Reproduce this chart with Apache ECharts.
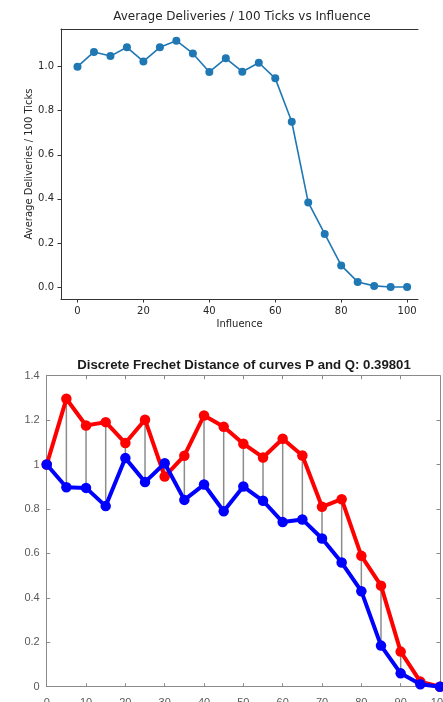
<!DOCTYPE html>
<html>
<head>
<meta charset="utf-8">
<script src="https://cdn.jsdelivr.net/npm/echarts@6/dist/echarts.min.js"></script>
<style>
html,body{margin:0;padding:0;background:#fff;}
#chart{width:443px;height:702px;}
</style>
</head>
<body>
<div id="chart"></div>
<script>
// ---- Top chart data ----
const influence = [0,5,10,15,20,25,30,35,40,45,50,55,60,65,70,75,80,85,90,95,100];
const avgDeliveries = [1.000,1.067,1.048,1.088,1.024,1.088,1.118,1.060,0.976,1.038,0.977,1.018,0.947,0.750,0.384,0.241,0.098,0.023,0.005,0.000,0.000];
const topXTicks = [0,20,40,60,80,100];
const topYTicks = [0.0,0.2,0.4,0.6,0.8,1.0];

// ---- Bottom chart data ----
const curveX = [0,5,10,15,20,25,30,35,40,45,50,55,60,65,70,75,80,85,90,95,100];
const curveP = [1.000,1.296,1.176,1.191,1.097,1.202,0.946,1.040,1.221,1.170,1.094,1.032,1.116,1.041,0.810,0.844,0.589,0.455,0.158,0.023,0.000];
const curveQ = [1.000,0.898,0.895,0.813,1.029,0.921,1.006,0.841,0.910,0.790,0.901,0.837,0.741,0.753,0.667,0.559,0.430,0.185,0.060,0.011,0.000];

const topTitle = 'Average Deliveries / 100 Ticks vs Influence';
const bottomTitle = 'Discrete Frechet Distance of curves P and Q: 0.39801';

const chart = echarts.init(document.getElementById('chart'), null, {renderer: 'canvas'});

const mplFont = 'DejaVu Sans';
const matFont = 'Liberation Sans';
const mplText = '#262626';
const matAxis = '#8a8a8a';
const matText = '#5a5a5a';

const option = {
  backgroundColor: '#ffffff',
  animation: false,
  graphic: [
    {type: 'text', x: 242, y: 17, style: {text: topTitle, font: '12px "DejaVu Sans"', fill: mplText, textAlign: 'center', textVerticalAlign: 'middle'}},
    {type: 'text', x: 244, y: 365.5, style: {text: bottomTitle, font: 'bold 13.2px "Liberation Sans"', fill: '#1a1a1a', textAlign: 'center', textVerticalAlign: 'middle'}}
  ],
  grid: [
    {left: 61, top: 29, right: 25, height: 270, containLabel: false, outerBoundsMode: 'none'},
    {left: 46.7, top: 375.7, right: 3, height: 311, containLabel: false, outerBoundsMode: 'none'}
  ],
  xAxis: [
    {
      gridIndex: 0, type: 'value', min: -5, max: 103.3, position: 'bottom',
      name: 'Influence', nameLocation: 'middle', nameGap: 20, nameMoveOverlap: false,
      nameTextStyle: {fontFamily: mplFont, fontSize: 10, color: mplText, verticalAlign: 'top'},
      axisLine: {show: true, onZero: false, lineStyle: {color: '#333', width: 1}},
      axisTick: {show: true, inside: false, length: 3.5, customValues: topXTicks, lineStyle: {color: '#333'}},
      axisLabel: {customValues: topXTicks, fontFamily: mplFont, fontSize: 10, color: mplText, margin: 7},
      splitLine: {show: false}
    },
    {
      gridIndex: 0, type: 'value', min: -5, max: 103.3, position: 'top',
      axisLine: {show: true, onZero: false, lineStyle: {color: '#333', width: 1}},
      axisTick: {show: false}, axisLabel: {show: false}, splitLine: {show: false}
    },
    {
      gridIndex: 1, type: 'value', min: 0, max: 100, interval: 10, position: 'bottom',
      axisLine: {show: true, onZero: false, lineStyle: {color: matAxis, width: 1}},
      axisTick: {show: true, inside: true, length: 3.5, lineStyle: {color: matAxis}},
      axisLabel: {fontFamily: matFont, fontSize: 11, color: matText, margin: 10.5},
      splitLine: {show: false}
    },
    {
      gridIndex: 1, type: 'value', min: 0, max: 100, interval: 10, position: 'top',
      axisLine: {show: true, onZero: false, lineStyle: {color: matAxis, width: 1}},
      axisTick: {show: true, inside: true, length: 3.5, lineStyle: {color: matAxis}},
      axisLabel: {show: false}, splitLine: {show: false}
    }
  ],
  yAxis: [
    {
      gridIndex: 0, type: 'value', min: -0.0545, max: 1.171, position: 'left',
      name: 'Average Deliveries / 100 Ticks', nameLocation: 'middle', nameGap: 27, nameMoveOverlap: false,
      nameTextStyle: {fontFamily: mplFont, fontSize: 10, color: mplText},
      axisLine: {show: true, onZero: false, lineStyle: {color: '#333', width: 1}},
      axisTick: {show: true, inside: false, length: 3.5, customValues: topYTicks, lineStyle: {color: '#333'}},
      axisLabel: {customValues: topYTicks, fontFamily: mplFont, fontSize: 10, color: mplText, margin: 7,
        formatter: v => Number(v).toFixed(1)},
      splitLine: {show: false}
    },
    {
      gridIndex: 1, type: 'value', min: 0, max: 1.4, interval: 0.2, position: 'left',
      axisLine: {show: true, onZero: false, lineStyle: {color: matAxis, width: 1}},
      axisTick: {show: true, inside: true, length: 3.5, lineStyle: {color: matAxis}},
      axisLabel: {fontFamily: matFont, fontSize: 11, color: matText, margin: 7},
      splitLine: {show: false}
    },
    {
      gridIndex: 1, type: 'value', min: 0, max: 1.4, interval: 0.2, position: 'right',
      axisLine: {show: true, onZero: false, lineStyle: {color: matAxis, width: 1}},
      axisTick: {show: true, inside: true, length: 3.5, lineStyle: {color: matAxis}},
      axisLabel: {show: false}, splitLine: {show: false}
    }
  ],
  series: [
    {
      type: 'line', xAxisIndex: 0, yAxisIndex: 0, clip: false,
      data: influence.map((x, i) => [x, avgDeliveries[i]]),
      lineStyle: {color: '#1f77b4', width: 1.6},
      itemStyle: {color: '#1f77b4'},
      symbol: 'circle', symbolSize: 8, showSymbol: true
    },
    {
      type: 'custom', xAxisIndex: 2, yAxisIndex: 1, clip: false,
      data: curveX.map((x, i) => [x, curveP[i], curveQ[i]]),
      encode: {x: 0, y: [1, 2]},
      renderItem: function (params, api) {
        const a = api.coord([api.value(0), api.value(1)]);
        const b = api.coord([api.value(0), api.value(2)]);
        return {type: 'line', shape: {x1: a[0], y1: a[1], x2: b[0], y2: b[1]},
          style: {stroke: '#8c8c8c', lineWidth: 1.5}};
      },
      z: 1
    },
    {
      type: 'line', xAxisIndex: 2, yAxisIndex: 1, clip: false,
      data: curveX.map((x, i) => [x, curveP[i]]),
      lineStyle: {color: '#ff0000', width: 4},
      itemStyle: {color: '#ff0000'},
      symbol: 'circle', symbolSize: 10.5, showSymbol: true, z: 2
    },
    {
      type: 'line', xAxisIndex: 2, yAxisIndex: 1, clip: false,
      data: curveX.map((x, i) => [x, curveQ[i]]),
      lineStyle: {color: '#0000ff', width: 4},
      itemStyle: {color: '#0000ff'},
      symbol: 'circle', symbolSize: 10.5, showSymbol: true, z: 3
    }
  ]
};
chart.setOption(option);
</script>
</body>
</html>
